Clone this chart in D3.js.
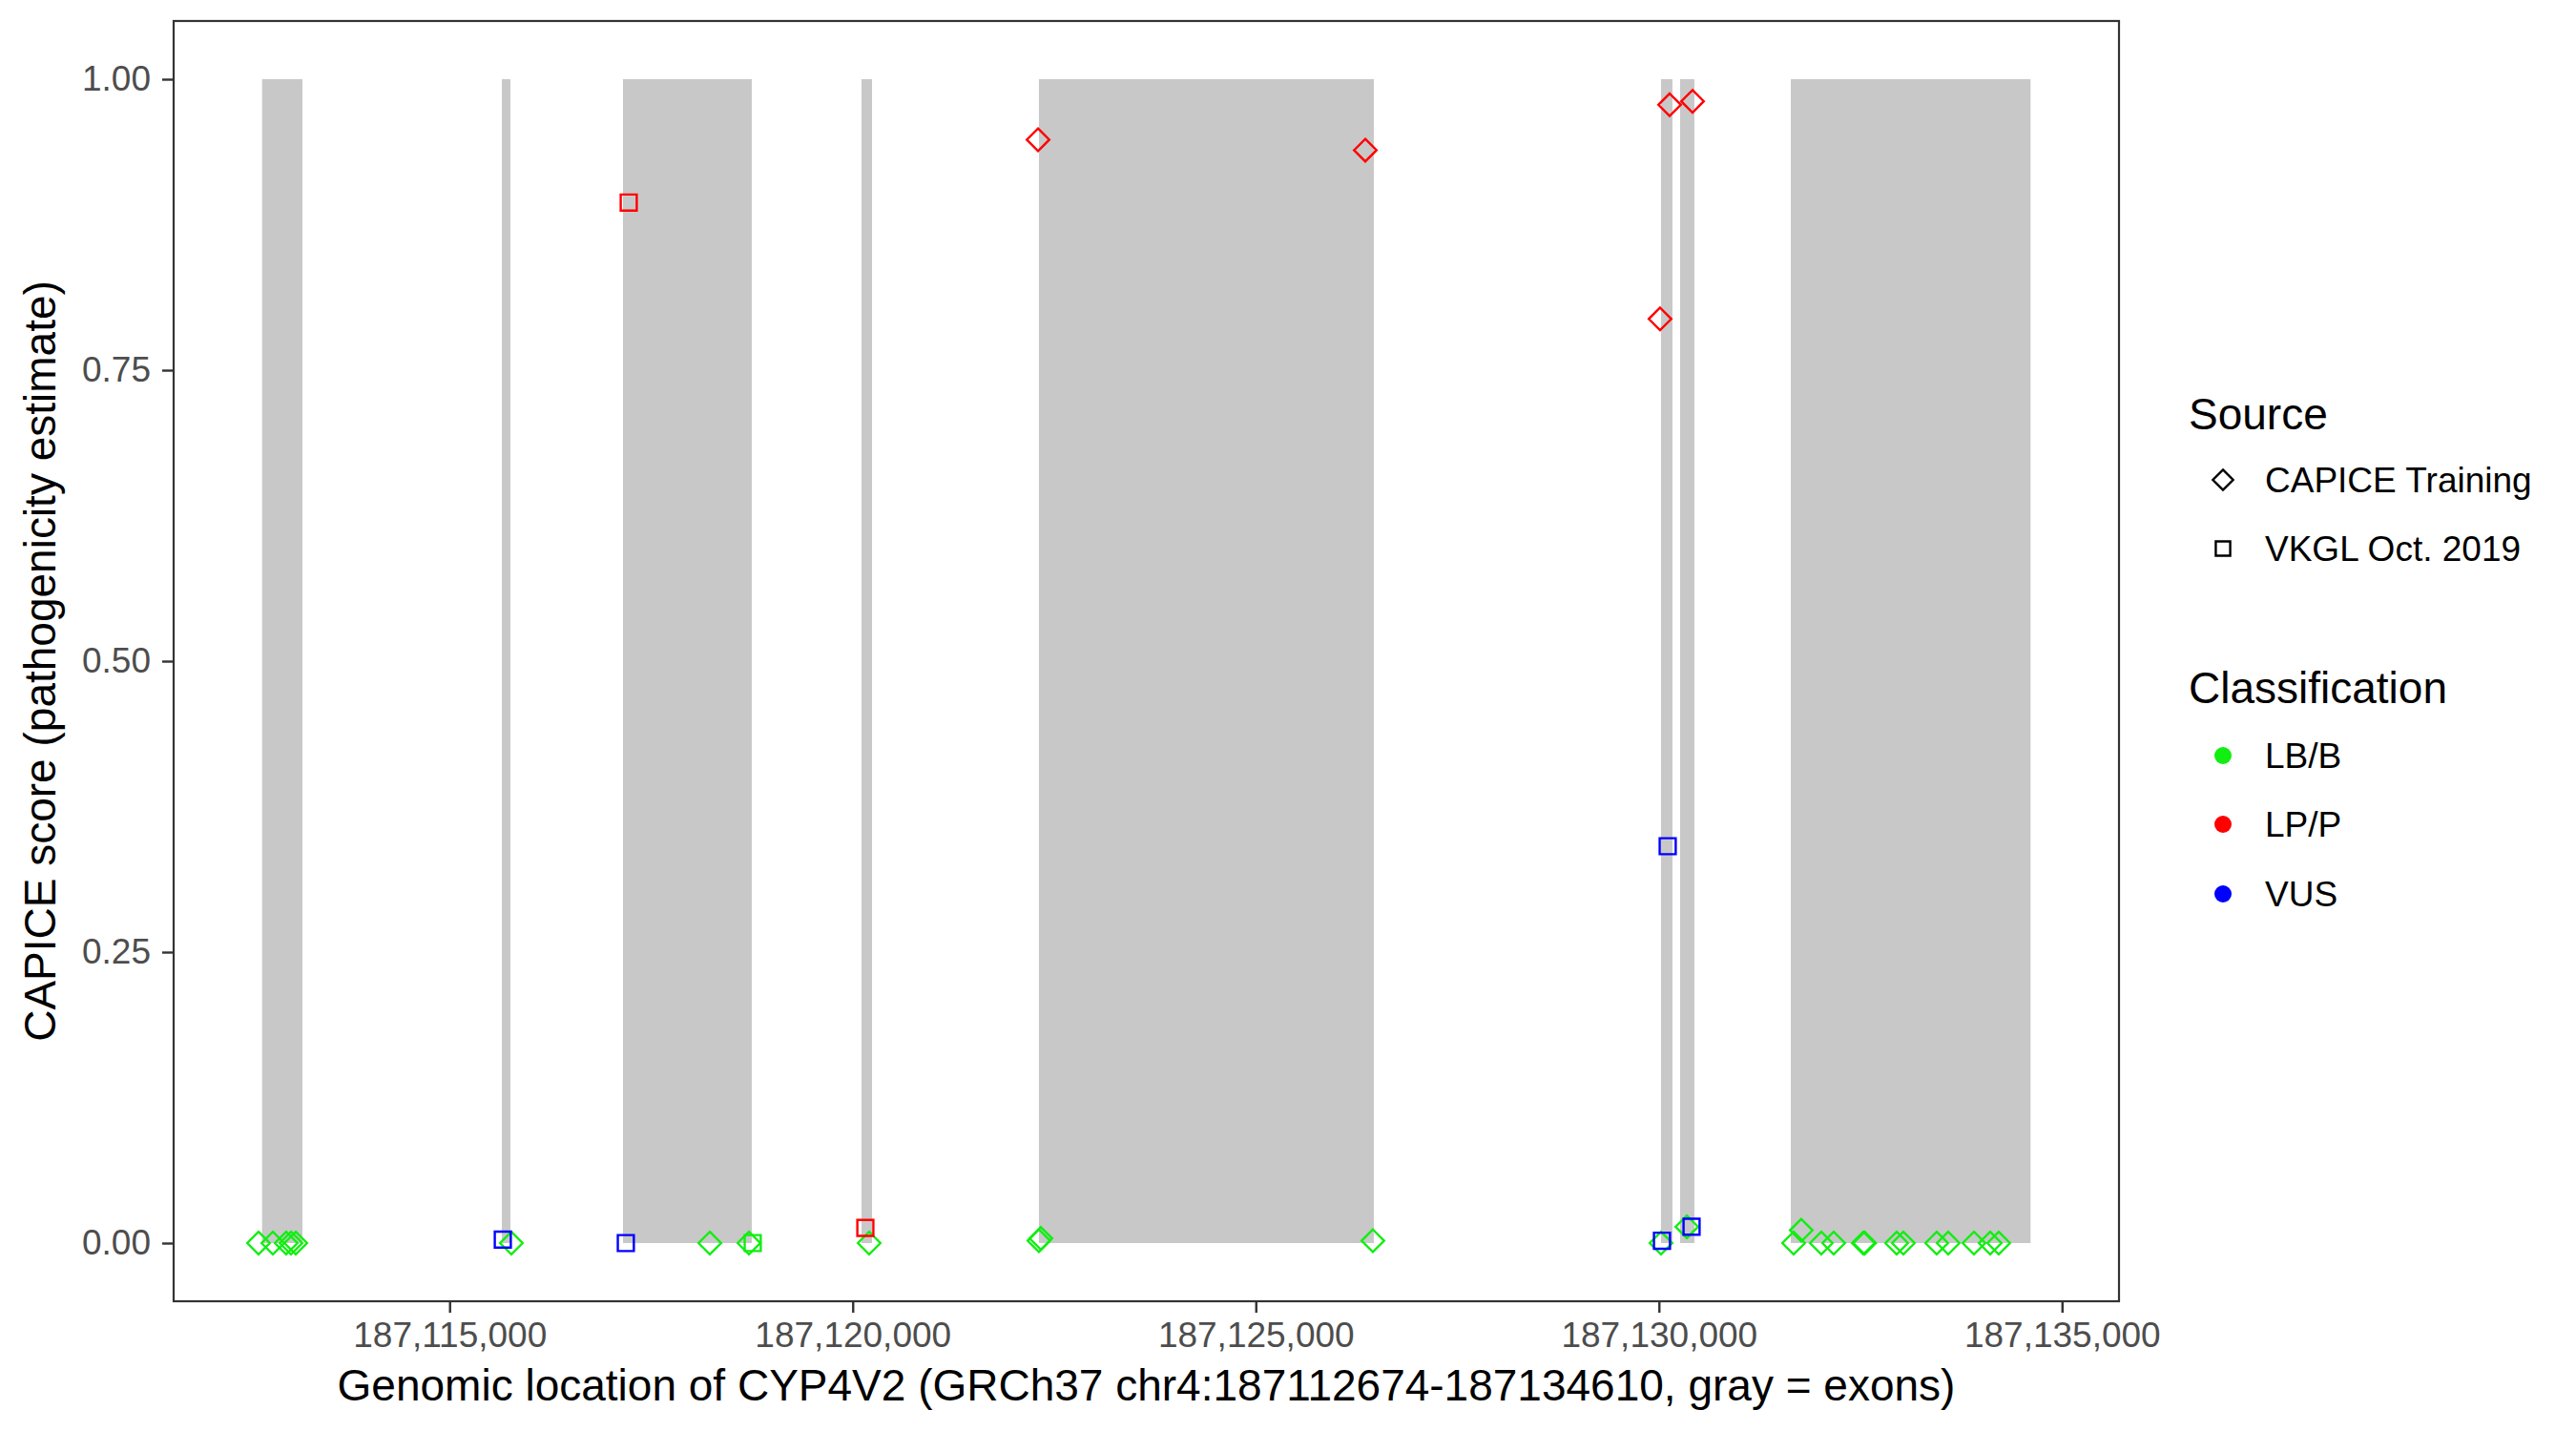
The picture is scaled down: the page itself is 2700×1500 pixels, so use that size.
<!DOCTYPE html>
<html>
<head>
<meta charset="utf-8">
<script src="https://cdn.jsdelivr.net/npm/d3@7"></script>
<style>
  html, body { margin: 0; padding: 0; background: #ffffff; }
  svg { display: block; }
  text { font-family: "Liberation Sans", Arial, Helvetica, sans-serif; }
</style>
</head>
<body>
<svg id="chart" width="2700" height="1500"></svg>
<script>
// ---------------- Data ----------------
const geneStart = 187112674;
const geneEnd = 187134610;

// Exons (gray rectangles, span score 0..1)
const exonStart = [187112674, 187115648, 187117151, 187120109, 187122310, 187130026, 187130263, 187131636];
const exonEnd   = [187113175, 187115754, 187118748, 187120240, 187126464, 187130168, 187130440, 187134610];

// Variants
const varPos = [
  187112630, 187112808, 187112973, 187113033, 187113092,
  187115766, 187118228, 187118713, 187120204,
  187122310, 187122334, 187126452,
  187130026, 187130346,
  187131671, 187131766, 187132014, 187132168, 187132535, 187132552,
  187132949, 187133032, 187133446, 187133588, 187133908, 187134109, 187134215,
  187118760,
  187122299, 187126358, 187130014, 187130133, 187130417,
  187117222, 187120157,
  187115660, 187117186, 187130038, 187130109, 187130405
];
const varScore = [
  0, 0, 0, 0, 0,
  0, 0, 0, 0,
  0.002, 0.004, 0.002,
  0, 0.014,
  0, 0.011, 0, 0, 0, 0,
  0, 0, 0, 0, 0, 0, 0,
  0,
  0.948, 0.939, 0.794, 0.978, 0.981,
  0.894, 0.013,
  0.003, 0, 0.002, 0.341, 0.014
];
const varSource = [
  "CAPICE Training", "CAPICE Training", "CAPICE Training", "CAPICE Training", "CAPICE Training",
  "CAPICE Training", "CAPICE Training", "CAPICE Training", "CAPICE Training",
  "CAPICE Training", "CAPICE Training", "CAPICE Training",
  "CAPICE Training", "CAPICE Training",
  "CAPICE Training", "CAPICE Training", "CAPICE Training", "CAPICE Training", "CAPICE Training", "CAPICE Training",
  "CAPICE Training", "CAPICE Training", "CAPICE Training", "CAPICE Training", "CAPICE Training", "CAPICE Training", "CAPICE Training",
  "VKGL Oct. 2019",
  "CAPICE Training", "CAPICE Training", "CAPICE Training", "CAPICE Training", "CAPICE Training",
  "VKGL Oct. 2019", "VKGL Oct. 2019",
  "VKGL Oct. 2019", "VKGL Oct. 2019", "VKGL Oct. 2019", "VKGL Oct. 2019", "VKGL Oct. 2019"
];
const varClass = [
  "LB/B", "LB/B", "LB/B", "LB/B", "LB/B",
  "LB/B", "LB/B", "LB/B", "LB/B",
  "LB/B", "LB/B", "LB/B",
  "LB/B", "LB/B",
  "LB/B", "LB/B", "LB/B", "LB/B", "LB/B", "LB/B",
  "LB/B", "LB/B", "LB/B", "LB/B", "LB/B", "LB/B", "LB/B",
  "LB/B",
  "LP/P", "LP/P", "LP/P", "LP/P", "LP/P",
  "LP/P", "LP/P",
  "VUS", "VUS", "VUS", "VUS", "VUS"
];

const xTicks = [187115000, 187120000, 187125000, 187130000, 187135000];
const yTicks = [0, 0.25, 0.5, 0.75, 1];
const sources = ["CAPICE Training", "VKGL Oct. 2019"];
const classes = ["LB/B", "LP/P", "VUS"];
const classColors = ["#11EE11", "#FF0000", "#0000FF"];

const xTitle = "Genomic location of CYP4V2 (GRCh37 chr4:187112674-187134610, gray = exons)";
const yTitle = "CAPICE score (pathogenicity estimate)";

// ---------------- Layout ----------------
const panel = { left: 182, right: 2221, top: 22, bottom: 1364 };
const svg = d3.select("#chart");

const span = geneEnd - geneStart;
const x = d3.scaleLinear()
  .domain([geneStart - 0.05 * span, geneEnd + 0.05 * span])
  .range([panel.left, panel.right]);
const y = d3.scaleLinear()
  .domain([-0.05, 1.05])
  .range([panel.bottom, panel.top]);

const color = d3.scaleOrdinal().domain(classes).range(classColors);
const shapeSym = d3.scaleOrdinal().domain(sources).range(["diamond", "square"]);

function symbolPath(kind, scale) {
  const k = scale || 1;
  if (kind === "diamond") {
    const r = 11.8 * k;
    return `M0,${-r}L${r},0L0,${r}L${-r},0Z`;
  } else {
    const h = 8.4 * k;
    return `M${-h},${-h}L${h},${-h}L${h},${h}L${-h},${h}Z`;
  }
}

// background
svg.append("rect").attr("x", 0).attr("y", 0).attr("width", 2700).attr("height", 1500).attr("fill", "#ffffff");

// Exons
const exons = exonStart.map((s, i) => ({ s, e: exonEnd[i] }));
svg.append("g").selectAll("rect").data(exons).join("rect")
  .attr("x", d => x(d.s))
  .attr("width", d => x(d.e) - x(d.s))
  .attr("y", y(1))
  .attr("height", y(0) - y(1))
  .attr("fill", "#C8C8C8");

// Points
const variants = varPos.map((p, i) => ({ p, s: varScore[i], src: varSource[i], cls: varClass[i] }));
svg.append("g").selectAll("path").data(variants).join("path")
  .attr("transform", d => `translate(${x(d.p)},${y(d.s)})`)
  .attr("d", d => symbolPath(shapeSym(d.src)))
  .attr("fill", "none")
  .attr("stroke", d => color(d.cls))
  .attr("stroke-width", 2.4);

// Panel border
svg.append("rect")
  .attr("x", panel.left).attr("y", panel.top)
  .attr("width", panel.right - panel.left).attr("height", panel.bottom - panel.top)
  .attr("fill", "none").attr("stroke", "#333333").attr("stroke-width", 2.2);

// Axes
const xAxis = svg.append("g")
  .attr("transform", `translate(0,${panel.bottom})`)
  .call(d3.axisBottom(x).tickValues(xTicks).tickFormat(d3.format(",")).tickSize(12).tickPadding(10));
const yAxis = svg.append("g")
  .attr("transform", `translate(${panel.left},0)`)
  .call(d3.axisLeft(y).tickValues(yTicks).tickFormat(d3.format(".2f")).tickSize(12).tickPadding(12));

[xAxis, yAxis].forEach(g => {
  g.select(".domain").remove();
  g.selectAll(".tick line").attr("stroke", "#333333").attr("stroke-width", 2.4);
  g.selectAll(".tick text")
    .attr("fill", "#4D4D4D")
    .style("font-size", "37px")
    .style("font-family", "'Liberation Sans', Arial, Helvetica, sans-serif");
});

// Axis titles
svg.append("text")
  .attr("x", (panel.left + panel.right) / 2)
  .attr("y", 1452)
  .attr("text-anchor", "middle")
  .attr("dominant-baseline", "central")
  .style("font-size", "46px")
  .attr("fill", "#000000")
  .text(xTitle);

svg.append("text")
  .attr("transform", `translate(42,${(panel.top + panel.bottom) / 2}) rotate(-90)`)
  .attr("text-anchor", "middle")
  .attr("dominant-baseline", "central")
  .style("font-size", "46px")
  .attr("fill", "#000000")
  .text(yTitle);

// Legend: Source
const legX = 2294, keyX = 2330, labX = 2374;
svg.append("text")
  .attr("x", legX).attr("y", 434)
  .attr("dominant-baseline", "central")
  .style("font-size", "46px")
  .text("Source");

const srcY = [503, 575];
const srcG = svg.append("g");
sources.forEach((s, i) => {
  srcG.append("path")
    .attr("transform", `translate(${keyX},${srcY[i]})`)
    .attr("d", symbolPath(shapeSym(s), 0.9))
    .attr("fill", "none")
    .attr("stroke", "#000000")
    .attr("stroke-width", 2.4);
  srcG.append("text")
    .attr("x", labX).attr("y", srcY[i])
    .attr("dominant-baseline", "central")
    .style("font-size", "37px")
    .text(s);
});

// Legend: Classification
svg.append("text")
  .attr("x", legX).attr("y", 721)
  .attr("dominant-baseline", "central")
  .style("font-size", "46px")
  .text("Classification");

const clsY = [792, 864, 937];
const clsG = svg.append("g");
classes.forEach((c, i) => {
  clsG.append("circle")
    .attr("cx", keyX).attr("cy", clsY[i]).attr("r", 9)
    .attr("fill", color(c));
  clsG.append("text")
    .attr("x", labX).attr("y", clsY[i])
    .attr("dominant-baseline", "central")
    .style("font-size", "37px")
    .text(c);
});
</script>
</body>
</html>
